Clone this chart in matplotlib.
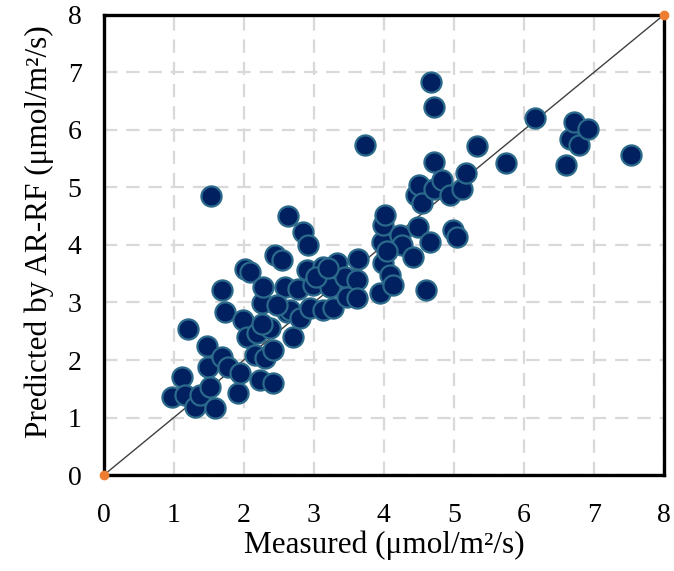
import matplotlib
matplotlib.use("Agg")
import matplotlib.pyplot as plt
import numpy as np

# measured vs predicted values
measured = [
    0.97, 1.11, 1.16, 1.20, 1.30, 1.37, 1.47, 1.49, 1.51, 1.53, 1.59, 1.69,
    1.69, 1.73, 1.77, 1.91, 1.94, 1.99, 2.01, 2.04, 2.09, 2.16, 2.19, 2.23,
    2.26, 2.27, 2.30, 2.37, 2.41, 2.41, 2.44, 2.54, 2.59, 2.61, 2.63, 2.66,
    2.70, 2.77, 2.80, 2.84, 2.90, 2.92, 2.94, 2.99, 3.13, 3.13, 3.23, 3.27,
    3.33, 3.44, 3.47, 3.61, 3.61, 3.63, 3.73, 3.94, 3.97, 3.99, 3.99, 4.01,
    4.09, 4.13, 4.23, 4.26, 4.42, 4.46, 4.49, 4.50, 4.55, 4.60, 4.66, 4.67,
    4.71, 4.71, 4.71, 4.83, 4.94, 4.99, 5.04, 5.11, 5.18, 5.33, 5.74, 6.16,
    6.60, 6.66, 6.71, 6.79, 6.91, 7.53, 2.26, 3.03, 3.20, 2.48, 4.05,
]
predicted = [
    1.36, 1.70, 1.39, 2.54, 1.19, 1.39, 2.24, 1.88, 1.53, 4.85, 1.17, 2.05,
    3.22, 2.83, 1.88, 1.43, 1.77, 2.70, 3.58, 2.40, 3.53, 2.09, 2.47, 1.65,
    2.99, 3.27, 2.03, 2.56, 2.17, 1.60, 3.83, 3.74, 3.27, 2.83, 4.50, 2.87,
    2.40, 3.23, 2.73, 4.23, 3.56, 4.00, 2.90, 3.30, 2.87, 3.62, 3.27, 2.90,
    3.69, 3.44, 3.10, 3.39, 3.08, 3.76, 5.74, 3.16, 4.05, 3.68, 4.35, 4.52,
    3.48, 3.30, 4.17, 4.00, 3.79, 4.87, 4.31, 5.04, 4.73, 3.22, 4.05, 6.83,
    6.40, 5.44, 4.97, 5.13, 4.87, 4.26, 4.14, 4.97, 5.25, 5.72, 5.42, 6.20,
    5.39, 5.84, 6.14, 5.74, 6.02, 5.57, 2.62, 3.45, 3.60, 2.95, 3.90,
]

ticks = [0, 1, 2, 3, 4, 5, 6, 7, 8]
one_to_one = [0, 8]

plt.rcParams["font.family"] = ["Liberation Serif", "DejaVu Serif"]

fig = plt.figure(figsize=(6.74, 5.71), dpi=100)
ax = fig.add_axes([0.154, 0.168, 0.831, 0.806])

ax.plot(one_to_one, one_to_one, color="#404040", linewidth=1.0, zorder=2)
ax.plot(one_to_one, one_to_one, linestyle="none", marker="o", markersize=6,
        color="#ED7D31", clip_on=False, zorder=6)

ax.scatter(measured, predicted, s=210, color="#002060", edgecolors="#2B6A8A",
           linewidths=1.6, zorder=4)

ax.set_xlim(0, 8)
ax.set_ylim(0, 8)
ax.set_xticks(ticks)
ax.set_yticks(ticks)
ax.tick_params(axis="both", length=0, labelsize=20)
ax.tick_params(axis="x", pad=20)
ax.tick_params(axis="y", pad=16)
ax.set_axisbelow(True)
ax.grid(True, color="#D9D9D9", linestyle=(0, (6, 4)), linewidth=1.6)

for sp in ax.spines.values():
    sp.set_linewidth(2.4)
    sp.set_color("black")

ax.set_xlabel("Measured (μmol/m²/s)", fontsize=22.5, labelpad=2)
ax.set_ylabel("Predicted by AR-RF (μmol/m²/s)", fontsize=22.5, labelpad=10)
ax.yaxis.label.set_y(0.53)

fig.savefig("out.png", dpi=100)
